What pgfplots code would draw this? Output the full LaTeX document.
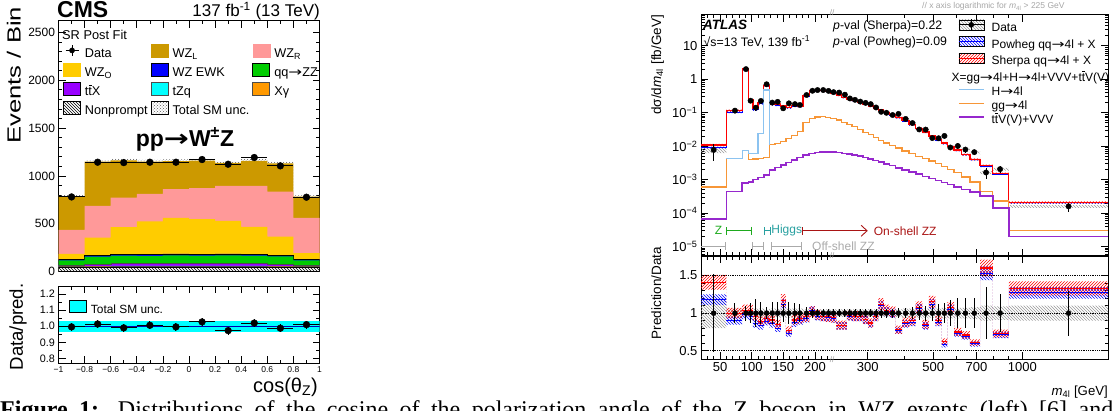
\documentclass[border=0pt]{standalone}
\usepackage{fontspec}
\setmainfont{Liberation Sans}
\newfontfamily\capfont{Liberation Serif}
\newfontfamily\arrowfont{DejaVu Sans}
\usepackage{pgfplots}
\usepackage{pgfplotstable}
\pgfplotsset{compat=1.18}
\usepgfplotslibrary{fillbetween}
\usetikzlibrary{patterns,arrows.meta}

\definecolor{wzl}{RGB}{204,153,0}
\definecolor{wzr}{RGB}{255,153,153}
\definecolor{wzo}{RGB}{255,204,0}
\definecolor{wzewk}{RGB}{0,0,255}
\definecolor{zzgreen}{RGB}{0,204,0}
\definecolor{ttxpurple}{RGB}{153,0,255}
\definecolor{tzqcyan}{RGB}{0,255,255}
\definecolor{xgorange}{RGB}{255,153,0}
\definecolor{hblue}{RGB}{140,195,240}
\definecolor{ggorange}{RGB}{247,150,55}
\definecolor{ttvpurple}{RGB}{150,40,205}
\definecolor{zgreen}{RGB}{30,170,30}
\definecolor{hteal}{RGB}{40,160,160}
\definecolor{onred}{RGB}{170,20,20}
\definecolor{offgray}{RGB}{170,170,170}

\newcommand{\fs}[1]{\fontsize{#1}{#1}\selectfont}
\newcommand{\ra}{\scalebox{1.3}[1]{\arrowfont →}}
\newcommand{\tbar}{\leavevmode\rlap{\hspace{0.03em}\rule[0.8em]{0.25em}{0.06em}}t}
% cumulative sums of the CMS stack
\newcommand{\sNP}{\thisrow{np}}
\newcommand{\sXG}{\sNP+\thisrow{xg}}
\newcommand{\sTZQ}{\sXG+\thisrow{tzq}}
\newcommand{\sTTX}{\sTZQ+\thisrow{ttx}}
\newcommand{\sZZ}{\sTTX+\thisrow{zz}}
\newcommand{\sEWK}{\sZZ+\thisrow{ewk}}
\newcommand{\sWZO}{\sEWK+\thisrow{wzo}}
\newcommand{\sWZR}{\sWZO+\thisrow{wzr}}
\newcommand{\sWZL}{\sWZR+\thisrow{wzl}}

% CMS, cos(theta_Z), post-fit stack (last row repeats the last bin)
\pgfplotstableread{
x     np  xg  tzq ttx zz  ewk wzo wzr wzl unc
-1.0  40  8   4   14  50  10  59  250 350 14
-0.8  40  10  6   20  80  14  185 331 462 17
-0.6  42  10  6   24  84  15  282 310 389 17
-0.4  42  10  6   24  82  16  343 289 338 17
-0.2  42  10  6   26  84  16  377 300 294 17
 0.0  42  10  6   26  82  16  365 324 289 17
 0.2  42  10  6   26  84  16  346 365 240 17
 0.4  42  10  6   24  84  16  285 428 263 17
 0.6  40  10  6   22  80  14  194 470 294 17
 0.8  40  8   4   14  50  10  66  369 222 14
 1.0  40  8   4   14  50  10  66  369 222 14
}\cmsstack

\pgfplotstableread{
x     d     ey  ex   r      er
-0.9  780   28  0.1  0.996  0.025
-0.7  1143  34  0.1  1.014  0.025
-0.5  1139  34  0.1  0.990  0.025
-0.3  1143  34  0.1  1.006  0.025
-0.1  1143  34  0.1  0.996  0.025
 0.1  1171  34  0.1  1.027  0.025
 0.3  1122  33  0.1  0.973  0.025
 0.5  1192  35  0.1  1.020  0.025
 0.7  1105  33  0.1  0.988  0.025
 0.9  777   28  0.1  1.010  0.025
}\cmsdata

% ATLAS, m4l: lower bin edge, data, Sherpa, Powheg, gg, ttV+VVV, data unc., ratios
\pgfplotstableread{
lo    d       sh      pw      gg      ttv     du    rs    rp
20    0.0077  0.0109  0.0091  6.0e-4  6.5e-5  0.20  1.41  1.18
60    0.115   0.115   0.1035  0.0042  4.4e-4  0.06  1.00  0.90
85    2.0     2.08    1.96    0.0075  8.0e-4  0.05  1.04  0.98
95    0.228   0.237   0.219   0.0040  8.5e-4  0.06  1.04  0.96
102   0.141   0.135   0.121   0.0041  1.0e-3  0.06  0.96  0.86
110   0.224   0.199   0.186   0.0043  1.15e-3 0.06  0.89  0.83
119   0.705   0.656   0.627   0.0045  1.35e-3 0.05  0.93  0.89
128   0.20    0.182   0.172   0.011   1.9e-3  0.06  0.91  0.86
137   0.21    0.179   0.168   0.012   2.3e-3  0.06  0.85  0.80
146   0.135   0.158   0.151   0.014   2.7e-3  0.06  1.17  1.12
154   0.19    0.146   0.139   0.017   3.2e-3  0.06  0.77  0.73
163   0.18    0.164   0.157   0.021   3.9e-3  0.06  0.91  0.87
172   0.17    0.158   0.153   0.027   4.6e-3  0.06  0.93  0.90
181   0.337   0.32    0.313   0.052   5.4e-3  0.05  0.95  0.93
191   0.451   0.46    0.465   0.066   6.0e-3  0.05  1.02  1.03
200   0.474   0.465   0.455   0.074   6.5e-3  0.05  0.98  0.96
208   0.474   0.455   0.450   0.075   6.8e-3  0.05  0.96  0.95
217   0.447   0.425   0.420   0.073   6.8e-3  0.05  0.95  0.94
225   0.410   0.385   0.381   0.068   6.6e-3  0.05  0.94  0.93
235   0.399   0.335   0.331   0.060   6.4e-3  0.05  0.84  0.83
245   0.345   0.29    0.286   0.052   6.1e-3  0.05  0.84  0.83
255   0.266   0.258   0.255   0.045   5.8e-3  0.05  0.97  0.96
265   0.242   0.232   0.230   0.038   5.4e-3  0.05  0.96  0.95
277   0.214   0.205   0.203   0.031   5.0e-3  0.05  0.96  0.95
289   0.196   0.18    0.178   0.026   4.6e-3  0.05  0.92  0.91
301   0.180   0.157   0.155   0.022   4.15e-3 0.05  0.87  0.86
313   0.143   0.137   0.136   0.018   3.7e-3  0.05  0.96  0.95
326   0.106   0.119   0.117   0.015   3.3e-3  0.05  1.12  1.10
340   0.099   0.103   0.101   0.0125  2.95e-3 0.05  1.04  1.02
355   0.085   0.087   0.085   0.0105  2.6e-3  0.05  1.02  1.00
372   0.092   0.072   0.071   0.0088  2.25e-3 0.05  0.78  0.77
392   0.065   0.057   0.056   0.0072  1.95e-3 0.06  0.88  0.86
414   0.049   0.044   0.043   0.0060  1.7e-3  0.06  0.90  0.88
436   0.0315  0.034   0.0334  0.0050  1.45e-3 0.06  1.08  1.06
459   0.0312  0.0265  0.0259  0.0043  1.25e-3 0.06  0.85  0.83
483   0.0174  0.020   0.0195  0.0036  1.08e-3 0.06  1.15  1.12
508   0.0172  0.0155  0.0151  0.0030  9.3e-4  0.06  0.90  0.88
533   0.0202  0.0125  0.0117  0.0025  8.1e-4  0.07  0.62  0.58
558   0.0091  0.0097  0.0096  0.0020  7.1e-4  0.07  1.07  1.05
588   0.0101  0.0076  0.0074  0.0016  6.1e-4  0.07  0.75  0.73
623   0.0079  0.0056  0.0055  0.0012  5.1e-4  0.07  0.71  0.69
665   0.0066  0.0040  0.0039  8.5e-4  4.3e-4  0.08  0.61  0.59
720   0.00163 0.0026  0.0025  4.4e-4  3.2e-4  0.10  1.60  1.53
795   0.00205 0.0015  0.00146 2.3e-4  1.4e-4  0.09  0.73  0.71
900   1.58e-4 2.1e-4  2.0e-4  3.0e-5  2.0e-5  0.10  1.33  1.27
1950  1.58e-4 2.1e-4  2.0e-4  3.0e-5  2.0e-5  0.10  1.33  1.27
}\atlashist

\pgfplotstableread{
x      d       e
40     0.0077  0.52
73.6   0.115   0.13
91     2.0     0.10
98.3   0.228   0.13
106.7  0.141   0.19
114.6  0.224   0.15
123.6  0.705   0.08
132.5  0.20    0.15
141    0.21    0.15
149.8  0.135   0.12
158.8  0.19    0.15
168.3  0.18    0.14
176.2  0.17    0.12
186.7  0.337   0.08
196    0.451   0.06
204    0.474   0.05
213    0.474   0.05
221.4  0.447   0.05
229.8  0.410   0.05
240    0.399   0.05
251    0.345   0.05
261    0.266   0.05
271.6  0.242   0.05
283    0.214   0.05
295    0.196   0.05
307    0.180   0.05
320    0.143   0.06
333    0.106   0.06
347    0.099   0.06
364    0.085   0.06
381    0.092   0.07
403    0.065   0.07
425    0.049   0.08
448    0.0315  0.09
471    0.0312  0.10
496    0.0174  0.11
521    0.0172  0.12
545    0.0202  0.13
571    0.0091  0.17
605    0.0101  0.20
642    0.0079  0.20
688    0.0066  0.20
754    0.00163 0.35
841    0.00205 0.25
1434   1.58e-4 0.30
}\atlasdata

\pgfplotstableread{
lo   h
60   0.0042
85   0.0075
95   0.0060
102  0.0060
110  0.024
119  0.48
128  0.011
}\atlash

\pgfplotsset{
  frame/.style={axis line style={line width=1pt}, tick style={black, line width=0.7pt},
    major tick length=7pt, minor tick length=3.5pt},
  atlasx/.style={scale only axis, width=407pt, xmin=20, xmax=1950,
    x coord trafo/.code={\pgfmathparse{(##1<225.5)?((##1-20)*0.634):(130+128.5*ln(##1/225))}},
    xtick={50,100,150,200,300,500,700,1000},
    minor xtick={30,40,60,70,80,90,110,120,130,140,160,170,180,190,210,220,400,600,800,900}},
}

\begin{document}
\begin{tikzpicture}

% ================= CMS main =================
\begin{axis}[frame, scale only axis, width=261pt, height=250.5pt,
  at={(58.5pt,389pt)}, anchor=north west,
  xmin=-1, xmax=1, ymin=0, ymax=2620,
  xtick={-1,-0.8,-0.6,-0.4,-0.2,0,0.2,0.4,0.6,0.8,1}, xticklabels={}, minor x tick num=1,
  ytick={0,500,1000,1500,2000,2500}, yticklabels={0,500,1000,1500,2000,2500},
  minor y tick num=4, yticklabel style={font=\fs{12}},
  legend columns=3, legend cell align=left,
  legend style={at={(0.017,0.91)}, anchor=north west, draw=none, fill=none,
    inner sep=0pt, font=\fs{12.7}, row sep=3pt,
    nodes={inner sep=0pt, text height=9pt, text depth=2.5pt},
    /tikz/every odd column/.append style={column sep=4pt},
    /tikz/every even column/.append style={column sep=3pt}}]
\addplot[const plot, fill=wzl, draw=none, forget plot] table[x=x, y expr=\sWZL]{\cmsstack} \closedcycle;
\addplot[const plot, fill=wzr, draw=none, forget plot] table[x=x, y expr=\sWZR]{\cmsstack} \closedcycle;
\addplot[const plot, fill=wzo, draw=none, forget plot] table[x=x, y expr=\sWZO]{\cmsstack} \closedcycle;
\addplot[const plot, fill=wzewk, draw=black, line width=0.8pt, forget plot] table[x=x, y expr=\sEWK]{\cmsstack} \closedcycle;
\addplot[const plot, fill=zzgreen, draw=none, forget plot] table[x=x, y expr=\sZZ]{\cmsstack} \closedcycle;
\addplot[const plot, fill=ttxpurple, draw=black!70, line width=0.4pt, forget plot] table[x=x, y expr=\sTTX]{\cmsstack} \closedcycle;
\addplot[const plot, fill=tzqcyan, draw=black!70, line width=0.4pt, forget plot] table[x=x, y expr=\sTZQ]{\cmsstack} \closedcycle;
\addplot[const plot, fill=xgorange, draw=black!70, line width=0.4pt, forget plot] table[x=x, y expr=\sXG]{\cmsstack} \closedcycle;
\addplot[const plot, fill=white, postaction={pattern=north west lines}, draw=black, line width=0.4pt, forget plot] table[x=x, y expr=\sNP]{\cmsstack} \closedcycle;
\addplot[const plot, draw=none, name path=cu, forget plot] table[x=x, y expr=\sWZL+\thisrow{unc}]{\cmsstack};
\addplot[const plot, draw=none, name path=cl, forget plot] table[x=x, y expr=\sWZL-\thisrow{unc}]{\cmsstack};
\addplot[pattern=crosshatch dots, pattern color=black!65, forget plot] fill between[of=cu and cl];
\addplot[only marks, mark=*, mark size=3.4pt, black, forget plot,
  error bars/.cd, x dir=both, x explicit, y dir=both, y explicit, error mark=none,
  error bar style={line width=1pt}]
  table[x=x, y=d, x error=ex, y error=ey]{\cmsdata};
\addlegendimage{legend image code/.code={\draw[line width=1pt] (2pt,3.5pt)--(15pt,3.5pt); \draw[line width=1pt] (8.5pt,-2pt)--(8.5pt,9pt); \fill (8.5pt,3.5pt) circle (2.6pt);}}
\addlegendentry{Data}
\addlegendimage{legend image code/.code={\fill[wzl] (0pt,-3pt) rectangle (17pt,10pt);}}
\addlegendentry{WZ\textsubscript{L}}
\addlegendimage{legend image code/.code={\fill[wzr] (0pt,-3pt) rectangle (17pt,10pt);}}
\addlegendentry{WZ\textsubscript{R}}
\addlegendimage{legend image code/.code={\fill[wzo] (0pt,-3pt) rectangle (17pt,10pt);}}
\addlegendentry{WZ\textsubscript{O}}
\addlegendimage{legend image code/.code={\draw[fill=wzewk, line width=0.8pt] (0pt,-3pt) rectangle (17pt,10pt);}}
\addlegendentry{WZ EWK}
\addlegendimage{legend image code/.code={\draw[fill=zzgreen, line width=0.8pt] (0pt,-3pt) rectangle (17pt,10pt);}}
\addlegendentry{qq\ra ZZ}
\addlegendimage{legend image code/.code={\draw[fill=ttxpurple, line width=0.8pt] (0pt,-3pt) rectangle (17pt,10pt);}}
\addlegendentry{t\tbar X}
\addlegendimage{legend image code/.code={\draw[fill=tzqcyan, draw=black!70, line width=0.8pt] (0pt,-3pt) rectangle (17pt,10pt);}}
\addlegendentry{tZq}
\addlegendimage{legend image code/.code={\draw[fill=xgorange, draw=black!70, line width=0.8pt] (0pt,-3pt) rectangle (17pt,10pt);}}
\addlegendentry{Xγ}
\addlegendimage{legend image code/.code={\draw[pattern=north west lines, line width=0.8pt] (0pt,-3pt) rectangle (17pt,10pt);}}
\addlegendentry{Nonprompt}
\addlegendimage{legend image code/.code={\fill[pattern=crosshatch dots, pattern color=black!65] (0pt,-3pt) rectangle (17pt,10pt);}}
\addlegendentry{Total SM unc.}
\end{axis}

% ================= CMS ratio =================
\begin{axis}[frame, scale only axis, width=261pt, height=77.3pt,
  at={(58.5pt,124pt)}, anchor=north west,
  xmin=-1, xmax=1, ymin=0.77, ymax=1.25,
  xtick={-1,-0.8,-0.6,-0.4,-0.2,0,0.2,0.4,0.6,0.8,1},
  xticklabels={−1,−0.8,−0.6,−0.4,−0.2,0,0.2,0.4,0.6,0.8,1}, minor x tick num=1,
  xticklabel style={font=\fs{8.5}},
  ytick={0.8,0.9,1.0,1.1,1.2}, yticklabels={0.8,0.9,1.0,1.1,1.2}, minor y tick num=1,
  yticklabel style={font=\fs{10.8}},
  legend style={at={(0.04,0.82)}, anchor=north west, draw=none, fill=none,
    inner sep=0pt, font=\fs{11.9}, nodes={inner sep=0pt},
    /tikz/every odd column/.append style={column sep=4pt}}]
\addplot[name path=bu, draw=none, forget plot] coordinates {(-1,1.035) (1,1.035)};
\addplot[name path=bl, draw=none, forget plot] coordinates {(-1,0.965) (1,0.965)};
\addplot[fill=tzqcyan, draw=none, forget plot] fill between[of=bu and bl];
\addplot[blue!70!black, line width=1pt, forget plot] coordinates {(-1,1) (1,1)};
\addplot[only marks, mark=*, mark size=3.4pt, black, forget plot,
  error bars/.cd, x dir=both, x explicit, y dir=both, y explicit, error mark=none,
  error bar style={line width=1pt}]
  table[x=x, y=r, x error=ex, y error=er]{\cmsdata};
\addlegendimage{legend image code/.code={\draw[fill=tzqcyan, line width=0.8pt] (0pt,-3pt) rectangle (17pt,9pt);}}
\addlegendentry{Total SM unc.}
\end{axis}

% ================= ATLAS main =================
\begin{axis}[frame, atlasx, height=241pt, at={(701pt,395pt)}, anchor=north west,
  ymode=log, ymin=5.2e-6, ymax=83, xticklabels={},
  ytick={1e-5,1e-4,1e-3,1e-2,1e-1,1,10},
  yticklabels={10\textsuperscript{−5},10\textsuperscript{−4},10\textsuperscript{−3},10\textsuperscript{−2},10\textsuperscript{−1},1,10},
  minor ytick={6e-6,7e-6,8e-6,9e-6,2e-5,3e-5,4e-5,5e-5,6e-5,7e-5,8e-5,9e-5,
    2e-4,3e-4,4e-4,5e-4,6e-4,7e-4,8e-4,9e-4,2e-3,3e-3,4e-3,5e-3,6e-3,7e-3,8e-3,9e-3,
    0.02,0.03,0.04,0.05,0.06,0.07,0.08,0.09,0.2,0.3,0.4,0.5,0.6,0.7,0.8,0.9,
    2,3,4,5,6,7,8,9,20,30,40,50,60,70,80},
  yticklabel style={font=\fs{13}},
  legend cell align=left,
  legend style={at={(0.631,0.985)}, anchor=north west, draw=none, fill=none,
    inner sep=0pt, font=\fs{12}, row sep=2pt,
    nodes={inner sep=0pt, text height=9pt, text depth=3pt},
    /tikz/every odd column/.append style={column sep=7pt}}]
\addplot[const plot, draw=none, name path=du, forget plot] table[x=lo, y expr=\thisrow{d}*(1+\thisrow{du})]{\atlashist};
\addplot[const plot, draw=none, name path=dl, forget plot] table[x=lo, y expr=\thisrow{d}*(1-\thisrow{du})]{\atlashist};
\addplot[pattern=north west lines, pattern color=gray!80, forget plot] fill between[of=du and dl];
\addplot[const plot, draw=none, name path=pu, forget plot] table[x=lo, y expr=\thisrow{pw}*1.06]{\atlashist};
\addplot[const plot, draw=none, name path=pl, forget plot] table[x=lo, y expr=\thisrow{pw}*0.94]{\atlashist};
\addplot[pattern=north west lines, pattern color=blue, forget plot] fill between[of=pu and pl];
\addplot[const plot, draw=none, name path=su, forget plot] table[x=lo, y expr=\thisrow{sh}*1.07]{\atlashist};
\addplot[const plot, draw=none, name path=sl, forget plot] table[x=lo, y expr=\thisrow{sh}*0.93]{\atlashist};
\addplot[pattern=north east lines, pattern color=red, forget plot] fill between[of=su and sl];
\addplot[const plot, blue, line width=1pt, forget plot] table[x=lo, y=pw]{\atlashist};
\addplot[const plot, red, line width=1.3pt, forget plot] table[x=lo, y=sh]{\atlashist};
\addplot[const plot, ggorange, line width=1.3pt, forget plot] table[x=lo, y=gg]{\atlashist};
\addplot[const plot, hblue, line width=1.3pt, forget plot] table[x=lo, y=h]{\atlash};
\addplot[const plot, ttvpurple, line width=1.6pt, forget plot] table[x=lo, y=ttv]{\atlashist};
\addplot[only marks, mark=*, mark size=2.7pt, black, forget plot,
  error bars/.cd, y dir=both, y explicit relative, error mark=none,
  error bar style={line width=1pt}]
  table[x=x, y=d, y error=e]{\atlasdata};
% region markers
\draw[zgreen, line width=0.9pt, {Bar[width=8pt]}-{Bar[width=8pt]}] (axis cs:60,2.95e-5) -- (axis cs:100,2.95e-5);
\node[zgreen, anchor=east, font=\fs{12}] at (axis cs:59,2.95e-5) {Z};
\draw[hteal, line width=0.9pt, {Bar[width=8pt]}-{Bar[width=8pt]}] (axis cs:120,2.95e-5) -- (axis cs:130,2.95e-5);
\node[hteal, anchor=west, font=\fs{12}, inner sep=0.5pt] at (axis cs:130,2.95e-5) {Higgs};
\draw[onred, line width=0.9pt, {Bar[width=8pt]}-{Straight Barb[length=6pt,width=11pt]}] (axis cs:180,2.95e-5) -- (axis cs:300,2.95e-5);
\node[onred, anchor=west, font=\fs{12}] at (axis cs:306,2.95e-5) {On-shell ZZ};
\draw[offgray, line width=0.9pt, -{Bar[width=8pt]}] (axis cs:20,1e-5) -- (axis cs:60,1e-5);
\draw[offgray, line width=0.9pt, {Bar[width=8pt]}-{Bar[width=8pt]}] (axis cs:100,1e-5) -- (axis cs:120,1e-5);
\draw[offgray, line width=0.9pt, {Bar[width=8pt]}-{Bar[width=8pt]}] (axis cs:130,1e-5) -- (axis cs:180,1e-5);
\node[offgray, anchor=west, font=\fs{12}] at (axis cs:190,1e-5) {Off-shell ZZ};
% legend
\addlegendimage{legend image code/.code={\fill[pattern=north west lines, pattern color=gray!80] (0pt,-1.5pt) rectangle (25pt,8.5pt); \draw[line width=1pt] (0pt,3.5pt)--(25pt,3.5pt); \draw[line width=1pt] (12.5pt,-2pt)--(12.5pt,9pt); \fill (12.5pt,3.5pt) circle (2.5pt);}}
\addlegendentry{Data}
\addlegendimage{legend image code/.code={\fill[pattern=north west lines, pattern color=blue] (0pt,-1.5pt) rectangle (25pt,8.5pt); \draw[blue, line width=1pt] (0pt,3.5pt)--(25pt,3.5pt);}}
\addlegendentry{Powheg qq\ra 4l + X}
\addlegendimage{legend image code/.code={\fill[pattern=north east lines, pattern color=red] (0pt,-1.5pt) rectangle (25pt,8.5pt); \draw[red, line width=1pt] (0pt,3.5pt)--(25pt,3.5pt);}}
\addlegendentry{Sherpa qq\ra 4l + X}
\addlegendimage{empty legend}
\addlegendentry[text height=12pt]{\hspace*{-40pt}X=gg\ra 4l+H\ra 4l+VVV+t\tbar V(V)}
\addlegendimage{legend image code/.code={\draw[hblue, line width=1.3pt] (0pt,3.5pt)--(25pt,3.5pt);}}
\addlegendentry{H\ra 4l}
\addlegendimage{legend image code/.code={\draw[ggorange, line width=1.3pt] (0pt,3.5pt)--(25pt,3.5pt);}}
\addlegendentry{gg\ra 4l}
\addlegendimage{legend image code/.code={\draw[ttvpurple, line width=1.6pt] (0pt,3.5pt)--(25pt,3.5pt);}}
\addlegendentry{t\tbar V(V)+VVV}
\end{axis}

% ================= ATLAS ratio =================
\begin{axis}[frame, atlasx, height=103pt, at={(701pt,154pt)}, anchor=north west,
  ymin=0.39, ymax=1.76,
  xticklabels={50,100,150,200,300,500,700,1000}, xticklabel style={font=\fs{13}},
  ytick={0.5,1,1.5}, yticklabels={0.5,1,1.5}, minor y tick num=4,
  yticklabel style={font=\fs{13}}]
\addplot[const plot, draw=none, name path=rdu, forget plot] table[x=lo, y expr=1+\thisrow{du}]{\atlashist};
\addplot[const plot, draw=none, name path=rdl, forget plot] table[x=lo, y expr=1-\thisrow{du}]{\atlashist};
\addplot[pattern=north west lines, pattern color=gray!80, forget plot] fill between[of=rdu and rdl];
\addplot[black, densely dotted, line width=0.8pt, forget plot] coordinates {(20,1.5) (1950,1.5)};
\addplot[black, densely dotted, line width=0.8pt, forget plot] coordinates {(20,1) (1950,1)};
\addplot[black, densely dotted, line width=0.8pt, forget plot] coordinates {(20,0.5) (1950,0.5)};
\addplot[const plot, draw=none, name path=rpu, forget plot] table[x=lo, y expr=\thisrow{rp}*1.06]{\atlashist};
\addplot[const plot, draw=none, name path=rpl, forget plot] table[x=lo, y expr=\thisrow{rp}*0.94]{\atlashist};
\addplot[pattern=north west lines, pattern color=blue, forget plot] fill between[of=rpu and rpl];
\addplot[const plot, draw=none, name path=rsu, forget plot] table[x=lo, y expr=\thisrow{rs}*1.07]{\atlashist};
\addplot[const plot, draw=none, name path=rsl, forget plot] table[x=lo, y expr=\thisrow{rs}*0.93]{\atlashist};
\addplot[pattern=north east lines, pattern color=red, forget plot] fill between[of=rsu and rsl];
\addplot[jump mark left, blue, line width=1pt, forget plot] table[x=lo, y=rp]{\atlashist};
\addplot[jump mark left, red, line width=1.2pt, forget plot] table[x=lo, y=rs]{\atlashist};
\addplot[only marks, mark=*, mark size=2.5pt, black, forget plot,
  error bars/.cd, y dir=both, y explicit, error mark=none, error bar style={line width=1pt}]
  table[x=x, y expr=1, y error=e]{\atlasdata};
\end{axis}

% ================= labels =================
\node[anchor=base west, font=\bfseries\fs{23}, inner sep=0pt] at (57pt,392.5pt) {CMS};
\node[anchor=base east, font=\fs{17}, inner sep=0pt] at (320pt,393.3pt) {137 fb\textsuperscript{-1} (13 TeV)};
\node[anchor=base west, font=\fs{12.8}, inner sep=0pt] at (62pt,370.7pt) {SR Post Fit};
\node[anchor=base, font=\bfseries\fs{23}, inner sep=0pt] at (185pt,263.5pt) {pp\ra W\textsuperscript{±}Z};
\node[anchor=base east, rotate=90, font=\fs{19}, inner sep=0pt] at (20.7pt,403.3pt) {\scalebox{1.35}[1]{Events / Bin}};
\node[anchor=base east, rotate=90, font=\fs{18.6}, inner sep=0pt] at (23pt,126.7pt) {Data/pred.};
\node[anchor=base east, font=\fs{20}, inner sep=0pt] at (318pt,18pt) {cos(θ\textsubscript{Z})};

\node[anchor=base west, font=\bfseries\itshape\fs{13.5}, inner sep=0pt] at (703pt,380pt) {ATLAS};
\node[anchor=base west, font=\fs{12.3}, inner sep=0pt] at (703.5pt,363.7pt) {√s=13 TeV, 139 fb\textsuperscript{-1}};
\node[anchor=base west, font=\fs{12.3}, inner sep=0pt] at (833pt,380pt) {\textit{p}-val (Sherpa)=0.22};
\node[anchor=base west, font=\fs{12.3}, inner sep=0pt] at (833pt,364.5pt) {\textit{p}-val (Powheg)=0.09};
\node[anchor=base west, font=\fs{8.5}, text=black!35, inner sep=0pt] at (922pt,401pt) {// x axis logarithmic for \textit{m}\textsubscript{4l} > 225 GeV};
\node[font=\fs{8}, text=black!40, inner sep=0pt] at (832pt,397pt) {//};
\node[font=\fs{8}, text=black!40, inner sep=0pt] at (832pt,154pt) {//};
\node[font=\fs{8}, text=black!40, inner sep=0pt] at (832pt,50pt) {//};
\node[anchor=base east, rotate=90, font=\fs{13.5}, inner sep=0pt] at (661pt,395pt) {dσ/d\textit{m}\textsubscript{4l} [fb/GeV]};
\node[anchor=base east, rotate=90, font=\fs{13.5}, inner sep=0pt] at (661pt,163.3pt) {Prediction/Data};
\node[anchor=base east, font=\fs{13.2}, inner sep=0pt] at (1108pt,15pt) {\textit{m}\textsubscript{4l} [GeV]};

\node[anchor=base west, inner sep=0pt] at (0pt,-7pt) {\makebox[1113pt][s]{\capfont\fs{24}\textbf{Figure 1:} Distributions of the cosine of the polarization angle of the Z boson in WZ events (left) [6] and}};

\pgfresetboundingbox
\useasboundingbox (0pt,0pt) rectangle (1113pt,410pt);
\end{tikzpicture}
\end{document}
